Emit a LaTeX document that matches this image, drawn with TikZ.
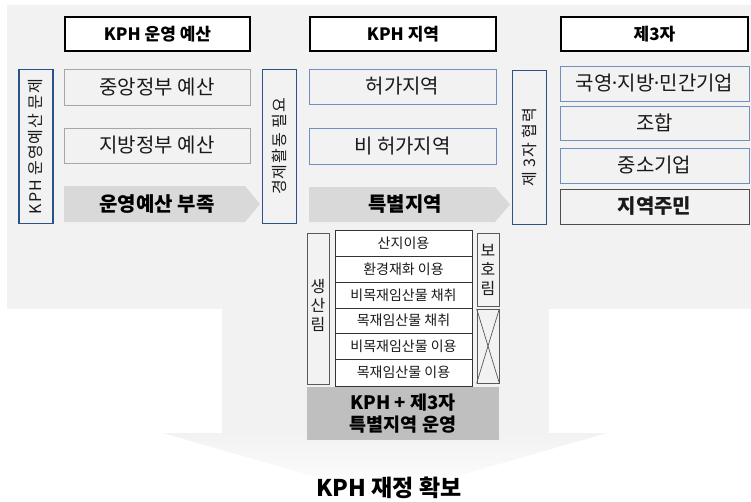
\documentclass[tikz,border=0pt]{standalone}
\usepackage{fontspec}
\setmainfont{Noto Sans CJK KR}
\definecolor{bggray}{HTML}{F2F2F2}
\definecolor{chev}{HTML}{D9D9D9}
\definecolor{darkblue}{HTML}{2A5485}
\definecolor{lblue}{HTML}{6F8FBF}
\definecolor{boxgray}{HTML}{A6A6A6}
\definecolor{opgray}{HTML}{BFBFBF}
\definecolor{txt}{HTML}{1A1A1A}
\newcommand{\mdot}{\kern-3pt·\kern-3pt}
\tikzset{
  headbox/.style={draw=black, line width=1.6pt, fill=white, minimum height=34pt, inner sep=0pt, text=black, font=\fontsize{17}{19}\selectfont\bfseries},
  sidebox/.style={draw=darkblue, line width=1.6pt, fill=bggray, minimum width=34pt, minimum height=154pt, inner sep=0pt},
  sidetext/.style={rotate=90, text=txt, inner sep=0pt, font=\fontsize{16}{18}\selectfont\addfontfeature{LetterSpace=6}},
  graybox/.style={draw=boxgray, line width=0.8pt, fill=bggray, inner sep=0pt, text=txt, font=\fontsize{20}{22}\selectfont},
  bluebox/.style={draw=lblue, line width=0.8pt, fill=bggray, inner sep=0pt, text=txt, font=\fontsize{20}{22}\selectfont},
  chevtext/.style={text=black, font=\fontsize{20}{22}\selectfont\bfseries},
  rowbox/.style={draw=black!80, line width=0.9pt, fill=white, minimum width=137pt, minimum height=26pt, inner sep=0pt, text=txt, font=\fontsize{14}{16}\selectfont},
  tallbox/.style={draw=black!65, line width=0.8pt, fill=bggray, minimum width=22pt, inner sep=0pt},
  tallchars/.style={text=txt, align=center, inner sep=0pt, font=\fontsize{16}{19}\selectfont},
}
\begin{document}
\begin{tikzpicture}[x=1pt,y=-1pt]
\useasboundingbox (0,0) rectangle (751,501);
% background arrow shape
\fill[bggray] (7,5) rectangle (751,309);
\fill[bggray] (222,308) rectangle (549,434);
\shade[top color=bggray, bottom color=white] (163,433) -- (607,433) -- (385,497) -- cycle;

% headers
\node[headbox, minimum width=185pt] (h1) at (157.5,34) {KPH 운영 예산};
\node[headbox, minimum width=186pt] (h2) at (403,34) {KPH 지역};
\node[headbox, minimum width=187pt] (h3) at (654.5,34) {제3자};

% side blue boxes
\node[sidebox] (s1) at (36,146.5) {};
\node[sidetext] (s1t) at (s1.center) {KPH 운영예산 문제};
\node[sidebox] (s2) at (279.5,146.5) {};
\node[sidetext] (s2t) at (s2.center) {경제활동 필요};
\node[sidebox] (s3) at (529.5,147.5) {};
\node[sidetext] (s3t) at (s3.center) {제 3자 협력};

% left column
\node[graybox, minimum width=186pt, minimum height=36pt] (l1) at (157,87) {중앙정부 예산};
\node[graybox, minimum width=186pt, minimum height=35pt] (l2) at (157,145.5) {지방정부 예산};
\fill[chev] (64,186) -- (245,186) -- (260,204) -- (245,222) -- (64,222) -- cycle;
\node[chevtext] (l3) at (157,204) {운영예산 부족};

% middle column
\node[bluebox, minimum width=187pt, minimum height=35pt] (m1) at (402.5,86.5) {허가지역};
\node[bluebox, minimum width=187pt, minimum height=36pt] (m2) at (402.5,146) {비 허가지역};
\fill[chev] (309,187) -- (495,187) -- (510,204.5) -- (495,222) -- (309,222) -- cycle;
\node[chevtext] (m3) at (405,204.5) {특별지역};

% right column
\node[bluebox, minimum width=189pt, minimum height=35pt] (r1) at (654.5,83.5) {국영\mdot 지방\mdot 민간기업};
\node[bluebox, minimum width=189pt, minimum height=34pt] (r2) at (654.5,123) {조합};
\node[bluebox, minimum width=189pt, minimum height=35pt] (r3) at (654.5,165.5) {중소기업};
\node[graybox, draw=black!70, minimum width=189pt, minimum height=35pt, font=\fontsize{20}{22}\selectfont\bfseries] (r4) at (654.5,206.5) {지역주민};

% lower stack
\node[tallbox, minimum height=151pt] (prod) at (318,308.5) {};
\node[tallchars] (prodt) at (318,305) {생\\산\\림};
\node[rowbox] (a1) at (403.5,243) {산지이용};
\node[rowbox] (a2) at (403.5,269) {환경재화 이용};
\node[rowbox] (a3) at (403.5,295) {비목재임산물 채취};
\node[rowbox, minimum height=25pt] (a4) at (403.5,320.5) {목재임산물 채취};
\node[rowbox] (a5) at (403.5,346) {비목재임산물 이용};
\node[rowbox, minimum height=27pt] (a6) at (403.5,372.5) {목재임산물 이용};
\node[tallbox, minimum height=73pt] (prot) at (488,269.5) {};
\node[tallchars] (prott) at (488,270) {보\\호\\림};
\node[tallbox, minimum height=74pt] (xb) at (488,346) {};
\draw[black!65, line width=0.7pt] (xb.north west) -- (xb.south east);
\draw[black!65, line width=0.7pt] (xb.north east) -- (xb.south west);
\node[fill=opgray, minimum width=192pt, minimum height=53pt, inner sep=0pt, align=center, text=black, font=\fontsize{18.5}{22}\selectfont\bfseries] (op) at (403,413.5) {KPH + 제3자\\특별지역 운영};

% final
\node[text=black, font=\fontsize{23}{25}\selectfont\bfseries] (fin) at (389,488) {KPH 재정 확보};
\end{tikzpicture}
\end{document}
